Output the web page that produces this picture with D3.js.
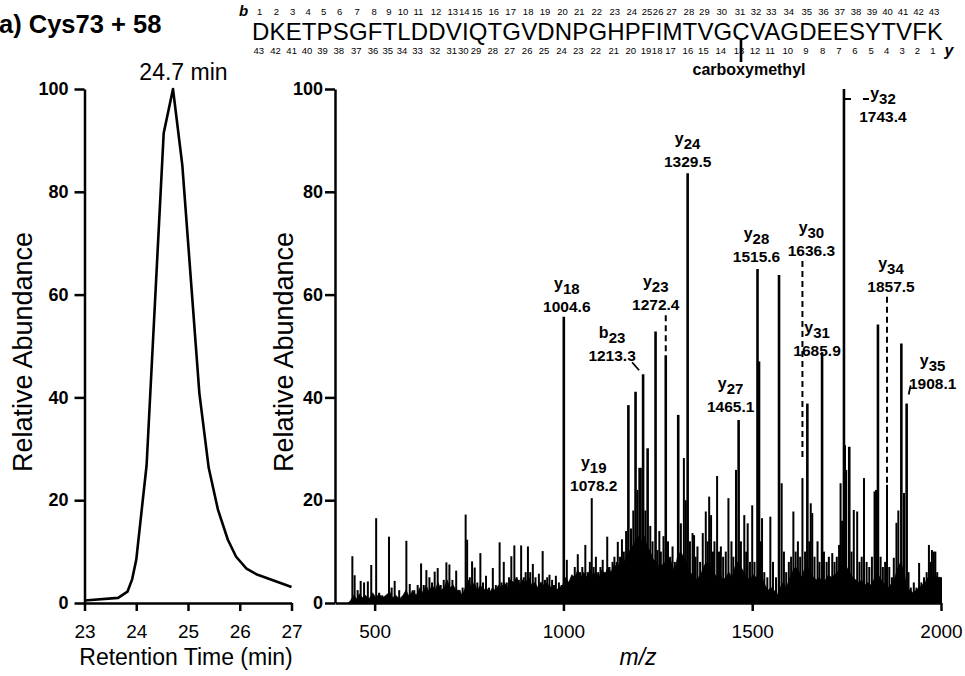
<!DOCTYPE html>
<html><head><meta charset="utf-8">
<script src="https://cdn.jsdelivr.net/npm/d3@7"></script>
<style>
html,body{margin:0;padding:0;background:#fff;}
svg{display:block;font-family:Arial,"Liberation Sans",Helvetica,sans-serif;}
</style></head>
<body>
<svg id="chart" width="965" height="676"></svg>
<script>
// ---------------- DATA ----------------
const panelTitle = "a) Cys73 + 58";
const sequence = "DKETPSGFTLDDVIQTGVDNPGHPFIMTVGCVAGDEESYTVFK";
const modifiedResidue = 31;            // carboxymethyl C
const modificationLabel = "carboxymethyl";

// LC chromatogram
const chromTime  = [23.0, 23.65, 23.83, 23.92, 24.0, 24.2, 24.53, 24.71, 24.89, 25.22, 25.4, 25.58, 25.77, 25.93, 26.13, 26.32, 27.0];
const chromAbund = [0.5, 1.0, 2.2, 4.6, 8.4, 26.8, 91.4, 100, 85.2, 40.8, 26.3, 18.1, 12.3, 9.0, 6.7, 5.6, 3.1];
const peakTimeLabel = "24.7 min";
const chromXTicks = [23, 24, 25, 26, 27];
const yTicks = [0, 20, 40, 60, 80, 100];
const msXTicks = [500, 1000, 1500, 2000];

// MS/MS spectrum peaks [m/z, relative abundance]
const peaks = [
 [441,9.1],[447,5.4],[455,2.5],[463,4.3],[472,4.0],[482,4.2],[491,7.4],[504,16.5],[512,2],[520,1.5],
 [538,12.9],[545,3],[553,4.3],[565,2.5],[584,12.1],[593,3.7],[605,2.5],[614,3.5],[623,7.7],[630,3.5],
 [637,6.4],[645,5.0],[652,4],[659,6.1],[667,6.8],[675,3.5],[683,4.5],[690,7.9],[698,7.5],[706,4.5],
 [716,6.3],[725,2.5],[733,3],[741,17.2],[745,12.3],[752,5],[758,8.1],[765,6.9],[772,4],[780,9.7],
 [787,4],[795,5.3],[803,3],[813,6.8],[821,3.5],[831,11.8],[836,4],[842,8.0],[850,4],[856,5],
 [862,9.1],[870,11.2],[876,5],[882,4.5],[888,11.2],[895,5],[900,6],[906,11.0],[912,6],[919,7.6],
 [926,5],[935,5.7],[940,4],[945,10.1],[951,4.5],[957,5],[963,5.5],[970,4.5],[975,3.5],[980,5.3],
 [988,4],[995,3.5],[1001,55.7],[1005,4.5],[1009,8.4],[1015,4],[1022,5],[1030,7],[1038,9.5],[1044,6],
 [1050,7],[1058,11.3],[1064,6],[1070,8],[1075,20.4],[1080,7],[1086,9.0],[1092,6],[1098,7],[1104,8.4],
 [1110,6],[1116,12.9],[1122,7],[1130,8],[1135,9],[1141,8.0],[1144,11.9],[1150,9],[1155,12.4],[1160,10],
 [1166,14],[1172,38.5],[1179,14.5],[1185,18],[1191,41.1],[1196,22],[1201,26.3],[1205,26.3],[1211,44.5],[1217,18],
 [1223,30.1],[1230,15],[1236,12],[1244,52.8],[1249,10.3],[1254,14],[1258,10],[1265,13],[1271,48.2],[1277,12],
 [1283,9],[1289,11],[1295,8],[1304,36.6],[1311,15.5],[1319,28.2],[1324,20],[1329,83.6],[1335,12],[1342,13.6],
 [1346,13.2],[1350,9],[1355,11],[1362,8],[1369,13.6],[1377,17.8],[1382,12],[1386,20.7],[1391,17.1],[1396,10],
 [1400,12],[1407,24.7],[1412,10],[1417,11],[1423,9],[1430,10],[1437,20.4],[1445,12],[1450,9],[1457,25.9],
 [1464,35.6],[1470,12],[1479,17.1],[1484,10],[1488,15.5],[1494,8],[1500,19],[1506,8],[1514,65.0],[1518,47],
 [1522,12],[1526,16.5],[1532,6],[1540,5],[1548,16.8],[1555,8],[1563,5],[1571,63.8],[1578,23.3],[1584,10],
 [1590,6],[1597,8],[1603,9],[1609,17.8],[1615,10],[1621,12],[1627,9],[1633,24.3],[1640,10],[1646,38.8],
 [1651,12],[1655,19.4],[1659,17.5],[1665,9],[1673,12],[1678,8],[1685,48.8],[1690,10],[1697,8],[1703,9],
 [1712,9.7],[1718,8],[1724,9],[1730,11.3],[1734,23.3],[1738,16],[1743,100],[1745,30.7],[1749,25.9],[1757,30.4],
 [1763,10],[1769,18.1],[1778,17.8],[1784,8],[1790,9],[1796,24.3],[1803,8],[1810,7],[1817,9],[1824,21.7],
 [1828,22],[1833,54.2],[1840,9],[1846,7],[1852,8],[1857,23],[1863,7],[1870,5],[1875,8.8],[1882,15.6],
 [1887,18],[1895,50.5],[1902,21.4],[1909,38.8],[1914,6],[1920,3],[1928,4],[1935,3],[1942,7.8],[1948,4],
 [1955,5],[1962,6],[1968,11.3],[1972,8],[1976,10.3],[1981,10],[1985,10],[1990,6],[1995,4.9],[2000,5]
];

// dense low-level signal envelope [m/z, relative abundance]
const noiseFloor = [
 [430,0],[436,0.5],[445,1.5],[452,0.8],[460,1.8],[468,1],[476,1.5],[485,0.8],[495,2],[503,1],[512,1.8],[520,1],
 [530,1.5],[540,2.2],[548,1],[556,1.5],[566,0.8],[575,1.5],[583,2.5],[592,1.2],[600,2.5],[610,1.5],[620,3],[628,2],
 [636,3.5],[644,2.2],[652,3.5],[660,2.5],[668,4],[676,2.5],[684,3],[692,4.5],[700,3],[708,3.5],[716,2.5],[724,2.5],
 [732,1.5],[740,3],[748,4.5],[756,3],[764,4],[772,2.5],[780,3.5],[788,2.5],[796,3],[804,2],[812,3],[820,2.5],
 [828,3.5],[836,3],[844,4],[852,3],[860,4.5],[868,4],[876,5],[884,3.5],[892,4.5],[900,4],[908,5],[916,3.5],
 [924,4],[932,3],[940,4],[948,3.5],[956,4],[964,3],[972,3.5],[980,2.5],[990,3],[998,3.5],[1006,5],[1014,4],
 [1022,5.5],[1030,5],[1038,6.5],[1046,5],[1054,6],[1062,5],[1070,6.5],[1078,5.5],[1086,6],[1094,5],[1102,6.5],[1110,5.5],
 [1118,7],[1126,6],[1134,7.5],[1142,7],[1150,8],[1158,7.5],[1166,9],[1174,10],[1182,11],[1190,12],[1198,13],[1206,12],
 [1214,13],[1222,11],[1230,10],[1238,8.5],[1246,8],[1254,7],[1262,7.5],[1270,8],[1278,9],[1286,8],[1294,6],[1302,9],
 [1310,10],[1318,9],[1326,8],[1334,6],[1342,5.5],[1350,4.5],[1358,5],[1366,6],[1374,7.5],[1382,8],[1390,7],[1398,6],
 [1406,5],[1414,5.5],[1422,4.5],[1430,5],[1438,6],[1446,5],[1454,7],[1462,8],[1470,7],[1478,6],[1486,5],[1494,4.5],
 [1502,5.5],[1510,5],[1518,6],[1526,5],[1534,3.5],[1542,2.5],[1550,3],[1558,2.5],[1566,1.5],[1574,3],[1582,4],[1590,3],
 [1598,4.5],[1606,6],[1614,7],[1622,6.5],[1630,5],[1638,6.5],[1646,7],[1654,6],[1662,5],[1670,4.5],[1678,5],[1686,4],
 [1694,4.5],[1702,5.5],[1710,5],[1718,5.5],[1726,6],[1734,7],[1742,8],[1750,7],[1758,6],[1766,5],[1774,4.5],[1782,4],
 [1790,4.5],[1798,3.5],[1806,4],[1814,3.5],[1822,4.5],[1830,6],[1838,5],[1846,4],[1854,3.5],[1862,3],[1870,4],[1878,5],
 [1886,7],[1894,8],[1902,6],[1910,3],[1918,2.5],[1926,2],[1934,2.5],[1942,3],[1950,3.5],[1958,4],[1966,5],[1974,4.5],
 [1982,5.5],[1990,5],[1998,5],[2000,0]
];

// annotated fragment ions
const ionType  = ["y","y","b","y","y","y","y","y","y","y","y","y"];
const ionIndex = ["18","19","23","23","24","27","28","30","31","32","34","35"];
const ionMzText= ["1004.6","1078.2","1213.3","1272.4","1329.5","1465.1","1515.6","1636.3","1685.9","1743.4","1857.5","1908.1"];
const ionPeakMz= [1001,1075,1211,1271,1329,1464,1514,1633,1685,1743,1857,1909];
const ionPeakInt=[55.7,20.4,44.5,48.2,83.6,35.6,65.0,24.3,48.8,100,23,38.8];

// ---------------- LAYOUT ----------------
const ionLayout = [
 {dx:3,  up:5},
 {dx:2,  up:7},
 {dx:-31,up:13, leader:"slash"},
 {dx:-10,up:45, leader:"dash"},
 {dx:0,  up:6},
 {dx:-8, up:8},
 {dx:-1, up:7},
 {dx:9,  up:222, leader:"dash", dashTo:460},
 {dx:-5, up:-4},
 {dx:39, up:-33, leader:"hdash"},
 {dx:4,  up:193, leader:"dash", dashTo:483},
 {dx:26, up:15, leader:"slash2"}
];

const svg = d3.select("#chart");
const font = 'Arial,"Liberation Sans",Helvetica,sans-serif';
const axisW = 2.5;
const fmt = d => String(d);

const y = d3.scaleLinear().domain([0,100]).range([603,89]);

// ---------- title ----------
svg.append("text").attr("x",-1).attr("y",33).attr("font-size",25.5).attr("font-weight","bold")
  .text(panelTitle);

// ---------- left chromatogram ----------
const xL = d3.scaleLinear().domain([23,27]).range([84.5,291.5]);

function styleAxis(g){
  g.select(".domain").attr("stroke","#000").attr("stroke-width",axisW);
  g.selectAll(".tick line").attr("stroke","#000").attr("stroke-width",axisW);
  g.selectAll(".tick text").attr("fill","#000").attr("font-family",font);
}

const gLy = svg.append("g").attr("transform","translate(84.5,0)")
  .call(d3.axisLeft(y).tickValues(yTicks).tickFormat(fmt).tickSize(10).tickSizeOuter(0).tickPadding(6));
styleAxis(gLy);
gLy.selectAll(".tick text").attr("font-size",18).attr("font-weight","bold");

const gLx = svg.append("g").attr("transform","translate(0,603)")
  .call(d3.axisBottom(xL).tickValues(chromXTicks).tickFormat(fmt).tickSize(8).tickSizeOuter(0));
styleAxis(gLx);
gLx.selectAll(".tick text").attr("font-size",19).attr("dy",null).attr("y",35);

const chromData = chromTime.map((t,i)=>[t,chromAbund[i]]);
svg.append("path").datum(chromData)
  .attr("fill","none").attr("stroke","#000").attr("stroke-width",2.6).attr("stroke-linejoin","round")
  .attr("d", d3.line().x(d=>xL(d[0])).y(d=>y(d[1])));

svg.append("text").attr("x", xL(24.7)+11).attr("y",80).attr("text-anchor","middle")
  .attr("font-size",23).text(peakTimeLabel);

svg.append("text").attr("transform","translate(32,352) rotate(-90)").attr("text-anchor","middle")
  .attr("font-size",27).text("Relative Abundance");
svg.append("text").attr("x",186).attr("y",665).attr("text-anchor","middle")
  .attr("font-size",23).text("Retention Time (min)");

// ---------- right spectrum ----------
const xR = d3.scaleLinear().domain([395,2000]).range([335,941]);

svg.append("path").datum(noiseFloor)
  .attr("fill","#000").attr("stroke","#000").attr("stroke-width",0.6)
  .attr("d", d3.area().x(d=>xR(d[0])).y0(y(0)).y1(d=>y(d[1])));

svg.append("g").selectAll("line").data(peaks).join("line")
  .attr("x1",d=>xR(d[0])).attr("x2",d=>xR(d[0]))
  .attr("y1",y(0)).attr("y2",d=>y(d[1]))
  .attr("stroke","#000").attr("stroke-width",d=>d[1]>30?2.6:2);

const gRy = svg.append("g").attr("transform","translate(335,0)")
  .call(d3.axisLeft(y).tickValues(yTicks).tickFormat(fmt).tickSize(10).tickSizeOuter(0).tickPadding(2));
styleAxis(gRy);
gRy.selectAll(".tick text").attr("font-size",18).attr("font-weight","bold");

const gRx = svg.append("g").attr("transform","translate(0,603)")
  .call(d3.axisBottom(xR).tickValues(msXTicks).tickFormat(fmt).tickSize(8).tickSizeOuter(0));
styleAxis(gRx);
gRx.selectAll(".tick text").attr("font-size",19).attr("dy",null).attr("y",35);

svg.append("text").attr("transform","translate(293,352) rotate(-90)").attr("text-anchor","middle")
  .attr("font-size",27).text("Relative Abundance");
svg.append("text").attr("x",638).attr("y",665).attr("text-anchor","middle")
  .attr("font-size",23).attr("font-style","italic").text("m/z");

// ion annotations
const gA = svg.append("g").attr("font-weight","bold");
ionType.forEach((t,i)=>{
  const L = ionLayout[i];
  const px = xR(ionPeakMz[i]), py = y(ionPeakInt[i]);
  const cx = px + L.dx;
  const vb = py - L.up;
  gA.append("text").attr("x",cx).attr("y",vb).attr("text-anchor","middle").attr("font-size",15.5).text(ionMzText[i]);
  const nm = gA.append("text").attr("x",cx).attr("y",vb-23).attr("text-anchor","middle").attr("font-size",16);
  nm.append("tspan").text(t);
  nm.append("tspan").attr("font-size",15).attr("dy",5).text(ionIndex[i]);
  if(L.leader==="dash"){
    gA.append("line").attr("x1",px).attr("x2",px).attr("y1",vb+5).attr("y2",L.dashTo||py)
      .attr("stroke","#000").attr("stroke-width",2).attr("stroke-dasharray","6,4");
  } else if(L.leader==="hdash"){
    gA.append("line").attr("x1",px+1).attr("x2",px+26).attr("y1",py+10).attr("y2",py+10)
      .attr("stroke","#000").attr("stroke-width",2).attr("stroke-dasharray","6,12");
  } else if(L.leader==="slash"){
    gA.append("line").attr("x1",px-11).attr("x2",px-4).attr("y1",vb+1).attr("y2",vb+9)
      .attr("stroke","#000").attr("stroke-width",1.8);
  } else if(L.leader==="slash2"){
    gA.append("line").attr("x1",px+4).attr("x2",px+2).attr("y1",vb-3).attr("y2",vb+6)
      .attr("stroke","#000").attr("stroke-width",1.8);
  }
});

// ---------- sequence ----------
const seqText = svg.append("text").attr("x",252).attr("y",40).attr("font-size",24)
  .attr("textLength",691).attr("lengthAdjust","spacing").text(sequence);
const node = seqText.node();
const centers = sequence.split("").map((c,i)=>{
  const e = node.getExtentOfChar(i); return e.x + e.width/2;
});
const n = sequence.length;

// place residue numbers, nudging them apart so they sit side by side without overlap
function placeNumbers(labels, yBase, shift){
  const g = svg.append("g").attr("font-size",9.5);
  const nodes = labels.map((lab,i)=>g.append("text").attr("y",yBase).text(lab));
  const widths = nodes.map(t=>t.node().getComputedTextLength());
  let lefts = centers.map((c,i)=>c+shift-widths[i]/2);
  for(let k=0;k<40;k++){
    for(let i=1;i<lefts.length;i++){
      const ov = lefts[i-1]+widths[i-1]+0.6 - lefts[i];
      if(ov>0){ lefts[i-1]-=ov/2; lefts[i]+=ov/2; }
    }
  }
  nodes.forEach((t,i)=>t.attr("x",lefts[i]));
}
placeNumbers(centers.map((c,i)=>String(i+1)), 15, -1);
placeNumbers(centers.map((c,i)=>String(n-i)), 54, -2);

svg.append("text").attr("x",239).attr("y",16).attr("font-size",15).attr("font-weight","bold")
  .attr("font-style","italic").text("b");
svg.append("text").attr("x",944.5).attr("y",56).attr("font-size",16).attr("font-weight","bold")
  .attr("font-style","italic").text("y");
const cxMod = centers[modifiedResidue-1];
svg.append("line").attr("x1",cxMod).attr("x2",cxMod).attr("y1",40).attr("y2",62)
  .attr("stroke","#000").attr("stroke-width",2.6);
svg.append("text").attr("x",cxMod+8).attr("y",75).attr("text-anchor","middle")
  .attr("font-size",16).attr("font-weight","bold").text(modificationLabel);
</script>
</body></html>
